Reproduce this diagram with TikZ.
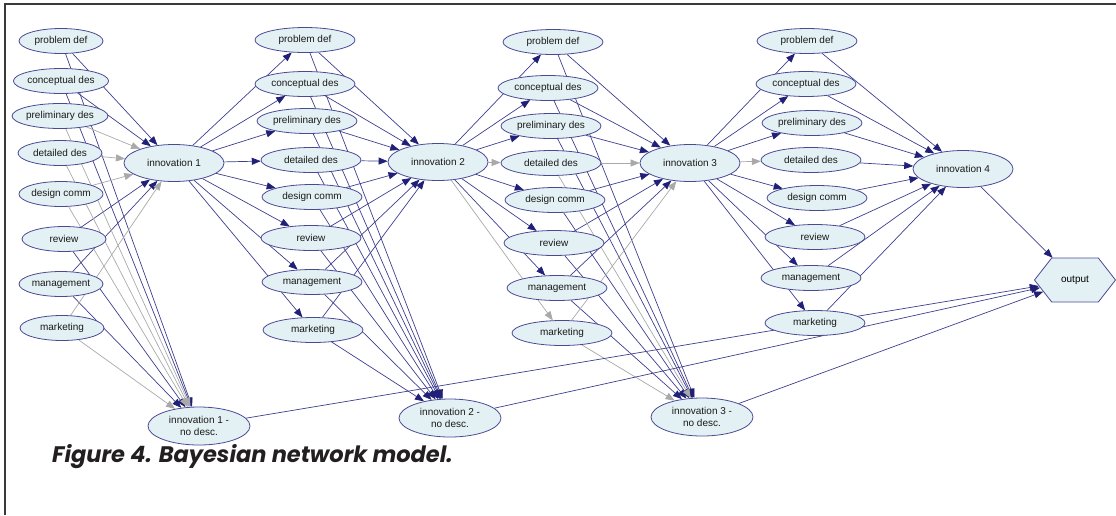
\documentclass[tikz,border=0pt]{standalone}
\usepackage{fontspec}
\setmainfont{Liberation Sans}
\newfontfamily\captionfont{Poppins}
\usetikzlibrary{arrows.meta,shapes.geometric,shapes.symbols,backgrounds}
\definecolor{nodefill}{HTML}{E4F1F4}
\definecolor{nodeline}{HTML}{4A4A94}
\definecolor{edgeblue}{HTML}{3E3E90}
\definecolor{tipblue}{HTML}{202078}
\definecolor{edgegrey}{HTML}{A9A9A9}
\definecolor{framegrey}{HTML}{3A3A3A}
\definecolor{captionink}{HTML}{231F20}

\tikzset{
  varnode/.style={ellipse, draw=nodeline, fill=nodefill, line width=0.8pt,
    minimum width=100pt, minimum height=25pt, inner sep=0pt,
    font=\fontsize{10}{11}\selectfont, text=black!90},
  firstcol/.style={varnode, minimum width=84pt},
  innovnode/.style={varnode, minimum width=100pt, minimum height=37pt},
  nodescnode/.style={varnode, align=center, minimum width=102pt, minimum height=38pt,
    font=\fontsize{10}{12}\selectfont},
  outnode/.style={signal, signal to=east and west, signal pointer angle=104,
    draw=nodeline, fill=nodefill, line width=0.8pt, minimum width=81pt,
    minimum height=44pt, inner sep=0pt, font=\fontsize{10}{11}\selectfont},
  bluelink/.style={draw=edgeblue, line width=0.7pt,
    -{Triangle[length=9pt,width=7pt,color=tipblue]}},
  greylink/.style={draw=edgegrey, line width=0.7pt,
    -{Triangle[length=9pt,width=7pt,color=edgegrey]}}
}

\begin{document}
\begin{tikzpicture}[x=1pt, y=-1pt]

  \useasboundingbox (0,0) rectangle (1116,515);

  % Frame
  \draw[framegrey, line width=1.3pt] (5,515) -- (5,4) -- (1116,4);

  % Stage 1 variables
  \node[firstcol] (probdef1)   at (61,41)  {problem def};
  \node[firstcol] (concdes1)   at (61,81)  {conceptual des};
  \node[firstcol] (prelimdes1) at (60,116) {preliminary des};
  \node[firstcol] (detdes1)    at (60,153) {detailed des};
  \node[firstcol] (descomm1)   at (61,194) {design comm};
  \node[firstcol] (review1)    at (64,239) {review};
  \node[firstcol] (manage1)    at (61,284) {management};
  \node[firstcol] (market1)    at (62,328) {marketing};

  % Stage 2 variables
  \node[varnode] (probdef2)   at (305,40)  {problem def};
  \node[varnode] (concdes2)   at (305,84)  {conceptual des};
  \node[varnode] (prelimdes2) at (307,121) {preliminary des};
  \node[varnode] (detdes2)    at (311,160) {detailed des};
  \node[varnode] (descomm2)   at (312,197) {design comm};
  \node[varnode] (review2)    at (311,238) {review};
  \node[varnode] (manage2)    at (312,282) {management};
  \node[varnode] (market2)    at (313,330) {marketing};

  % Stage 3 variables
  \node[varnode] (probdef3)   at (553,42)  {problem def};
  \node[varnode] (concdes3)   at (548,88)  {conceptual des};
  \node[varnode] (prelimdes3) at (551,126) {preliminary des};
  \node[varnode] (detdes3)    at (551,163) {detailed des};
  \node[varnode] (descomm3)   at (555,200) {design comm};
  \node[varnode] (review3)    at (554,243) {review};
  \node[varnode] (manage3)    at (557,288) {management};
  \node[varnode] (market3)    at (562,333) {marketing};

  % Stage 4 variables
  \node[varnode] (probdef4)   at (807,41)  {problem def};
  \node[varnode] (concdes4)   at (806,84)  {conceptual des};
  \node[varnode] (prelimdes4) at (812,123) {preliminary des};
  \node[varnode] (detdes4)    at (811,160) {detailed des};
  \node[varnode] (descomm4)   at (817,198) {design comm};
  \node[varnode] (review4)    at (815,237) {review};
  \node[varnode] (manage4)    at (811,278) {management};
  \node[varnode] (market4)    at (815,323) {marketing};

  % Innovation nodes
  \node[innovnode] (innov1) at (174,163) {innovation 1};
  \node[innovnode] (innov2) at (438,162) {innovation 2};
  \node[innovnode] (innov3) at (690,163) {innovation 3};
  \node[innovnode] (innov4) at (963,169) {innovation 4};
  \node[nodescnode] (nodesc1) at (199,426) {innovation 1 -\\no desc.};
  \node[nodescnode] (nodesc2) at (450,418) {innovation 2 -\\no desc.};
  \node[nodescnode] (nodesc3) at (702,417) {innovation 3 -\\no desc.};
  \node[outnode] (output) at (1075,280) {output};

  % Links, behind the nodes
  \begin{pgfonlayer}{background}
    % stage 1
    \foreach \v in {probdef,concdes,review,manage} {
      \draw[bluelink] (\v1) -- (innov1);
      \draw[bluelink] (\v1) -- (nodesc1);
    }
    \foreach \v in {prelimdes,detdes,descomm,market} {
      \draw[greylink] (\v1) -- (innov1);
      \draw[greylink] (\v1) -- (nodesc1);
    }
    % stage 2
    \foreach \v in {probdef,concdes,prelimdes,detdes,descomm,review,manage,market} {
      \draw[bluelink] (innov1) -- (\v2);
      \draw[bluelink] (\v2) -- (innov2);
      \draw[bluelink] (\v2) -- (nodesc2);
    }
    % stage 3
    \foreach \v in {probdef,concdes,prelimdes,descomm,review,manage} {
      \draw[bluelink] (innov2) -- (\v3);
      \draw[bluelink] (\v3) -- (innov3);
      \draw[bluelink] (\v3) -- (nodesc3);
    }
    \foreach \v in {detdes,market} {
      \draw[greylink] (innov2) -- (\v3);
      \draw[greylink] (\v3) -- (innov3);
      \draw[greylink] (\v3) -- (nodesc3);
    }
    % stage 4
    \foreach \v in {probdef,concdes,prelimdes,descomm,review,manage,market} {
      \draw[bluelink] (innov3) -- (\v4);
      \draw[bluelink] (\v4) -- (innov4);
    }
    \draw[greylink] (innov3) -- (detdes4);
    \draw[bluelink] (detdes4) -- (innov4);
    % output
    \draw[bluelink] (innov4) -- (output);
    \foreach \k in {1,2,3}
      \draw[bluelink] (nodesc\k) -- (output);
  \end{pgfonlayer}

  % Caption
  \node[anchor=base west, inner sep=0pt, text=captionink,
    font=\captionfont\bfseries\itshape\fontsize{22.5}{26}\selectfont]
    (caption) at (52,462) {Figure 4. Bayesian network model.};

\end{tikzpicture}
\end{document}
